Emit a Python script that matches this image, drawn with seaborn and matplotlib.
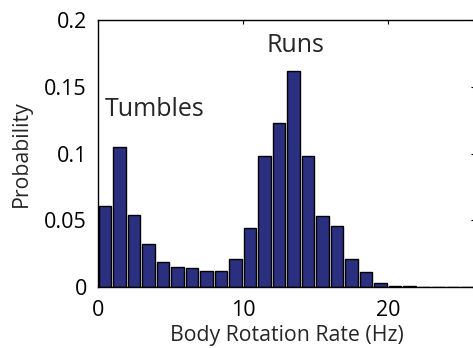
import numpy as np
import matplotlib
matplotlib.use("Agg")
import matplotlib.pyplot as plt
import seaborn as sns

sns.set_style("white")
plt.rcParams['font.family'] = ['Open Sans', 'DejaVu Sans']

bin_centers = [0.5, 1.5, 2.5, 3.5, 4.5, 5.5, 6.5, 7.5, 8.5, 9.5,
               10.5, 11.5, 12.5, 13.5, 14.5, 15.5, 16.5, 17.5, 18.5, 19.5,
               20.5, 21.5, 22.5, 23.5, 24.5, 25.5]
probability = [0.061, 0.105, 0.054, 0.032, 0.019, 0.015, 0.014, 0.012, 0.012, 0.021,
               0.044, 0.098, 0.123, 0.1615, 0.098, 0.053, 0.0455, 0.021, 0.011, 0.003,
               0.0007, 0.0005, 0.0004, 0.0003, 0.0002, 0.0001]
bin_edges = list(range(0, 27))
xticks = [0, 10, 20]
yticks = [0, 0.05, 0.1, 0.15, 0.2]
ytick_labels = ["0", "0.05", "0.1", "0.15", "0.2"]

fig = plt.figure(figsize=(4.73, 3.48), dpi=100)
ax = fig.add_axes([0.207, 0.175, 0.797, 0.7675])

sns.histplot(x=bin_centers, weights=probability, bins=bin_edges, shrink=0.85,
             color="#2A2F80", edgecolor="black", linewidth=1.0, alpha=1.0, ax=ax)

ax.set_xlim(0, 26)
ax.set_ylim(0, 0.2)
ax.set_xticks(xticks)
ax.set_xticklabels([str(t) for t in xticks])
ax.set_yticks(yticks)
ax.set_yticklabels(ytick_labels)
ax.tick_params(direction="in", length=3, width=0.8, top=True, right=True,
               labelsize=15.5, colors="black")
ax.tick_params(axis="x", pad=9)
ax.tick_params(axis="y", pad=8)
for s in ax.spines.values():
    s.set_visible(True)
    s.set_color("black")
    s.set_linewidth(1.0)
ax.set_xlabel("Body Rotation Rate (Hz)", fontsize=15.3, labelpad=3)
ax.set_ylabel("Probability", fontsize=15.3, labelpad=9)
ax.text(0.5, 0.133, "Tumbles", fontsize=18, ha="left", va="center")
ax.text(11.6, 0.181, "Runs", fontsize=18, ha="left", va="center")

fig.savefig("out.png", dpi=100)
